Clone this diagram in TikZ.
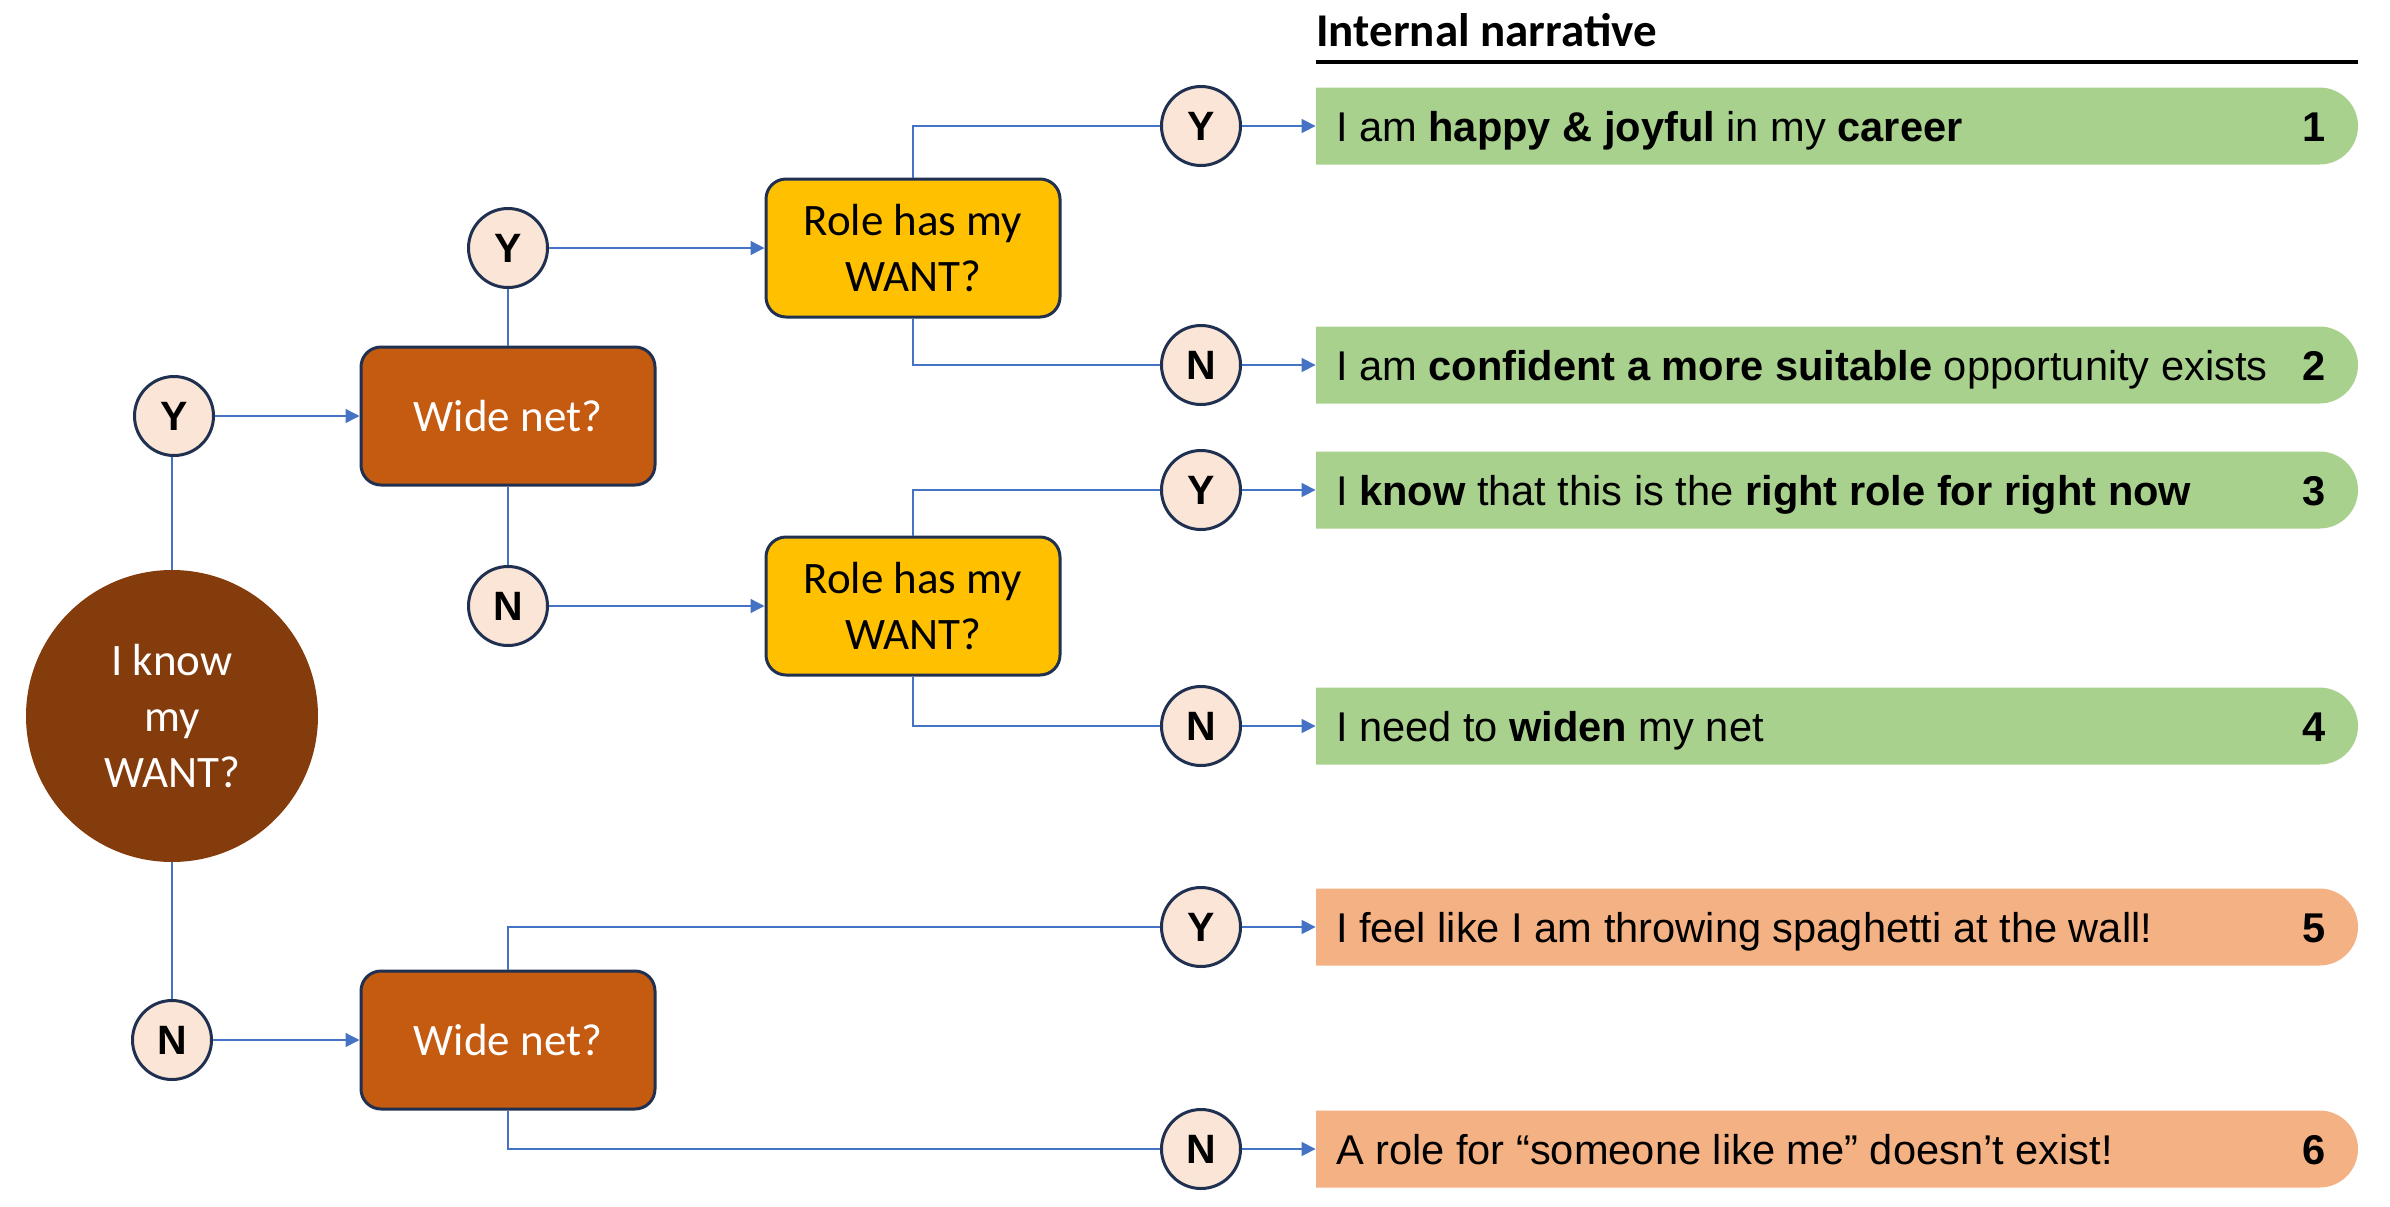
\documentclass[tikz,border=0pt]{standalone}
\usepackage{fontspec}
\usetikzlibrary{arrows.meta,shapes.misc}
\newfontfamily\calibrifont{Carlito}
\newfontfamily\arialfont{Liberation Sans}
\definecolor{lineblue}{HTML}{4472C4}
\definecolor{navy}{HTML}{1F3050}
\definecolor{peach}{HTML}{FBE5D6}
\definecolor{burnt}{HTML}{C55A11}
\definecolor{darkbrown}{HTML}{843C0C}
\definecolor{gold}{HTML}{FFC000}
\definecolor{leafgreen}{HTML}{A9D18E}
\definecolor{salmon}{HTML}{F4B183}
\tikzset{
  yn/.style={circle, draw=navy, line width=1.5pt, fill=peach, minimum size=39.5pt, inner sep=0pt,
    font=\arialfont\bfseries\fontsize{20.5}{22}\selectfont},
  decbox/.style={rectangle, rounded corners=10pt, draw=navy, line width=1.5pt,
    minimum width=147pt, minimum height=69pt, align=center, inner sep=2pt,
    font=\calibrifont\fontsize{22.5}{28}\selectfont},
  widebox/.style={decbox, fill=burnt, text=white},
  rolebox/.style={decbox, fill=gold, text=black},
  bigcirc/.style={circle, fill=darkbrown, minimum size=146pt, inner sep=0pt, text=white, align=center,
    font=\calibrifont\fontsize{22.5}{28}\selectfont},
  conn/.style={draw=lineblue, line width=0.7pt},
  arr/.style={conn, -{Triangle[length=7pt,width=7pt]}},
  outbox/.style={rounded rectangle, rounded rectangle left arc=none, minimum width=521pt,
    minimum height=38.5pt, inner sep=0pt},
  gbox/.style={outbox, fill=leafgreen},
  obox/.style={outbox, fill=salmon},
  ntext/.style={anchor=base west, inner sep=0pt, font=\arialfont\fontsize{20.8}{22}\selectfont},
  numtext/.style={anchor=base east, inner sep=0pt, font=\arialfont\bfseries\fontsize{20.8}{22}\selectfont},
}
\begin{document}
\begin{tikzpicture}[x=0.5pt,y=-0.5pt]
\useasboundingbox (0,0) rectangle (2390,1206);

% header
\node[anchor=base west, inner sep=0pt, font=\calibrifont\bfseries\fontsize{23.5}{26}\selectfont] (head) at (1316,46) {Internal narrative};
\coordinate (hl) at (1316,62);
\coordinate (hr) at (2358,62);
\draw[line width=2pt] (hl) -- (hr);

% decision nodes
\node[bigcirc] (big) at (172,716) {I know\\my\\WANT?};
\node[yn] (Y1) at (174,416) {Y};
\node[yn] (N1) at (172,1040) {N};
\node[widebox] (W1) at (508,416) {Wide net?};
\node[widebox] (W2) at (508,1040) {Wide net?};
\node[yn] (Y2) at (508,248) {Y};
\node[yn] (N2) at (508,606) {N};
\node[rolebox] (R1) at (913,248) {Role has my\\WANT?};
\node[rolebox] (R2) at (913,606) {Role has my\\WANT?};
\node[yn] (Y3) at (1201,126) {Y};
\node[yn] (N3) at (1201,365) {N};
\node[yn] (Y4) at (1201,490) {Y};
\node[yn] (N4) at (1201,726) {N};
\node[yn] (Y5) at (1201,927) {Y};
\node[yn] (N5) at (1201,1149) {N};

% outcome boxes
\node[gbox] (b1) at (1837,126) {};
\node[gbox] (b2) at (1837,365) {};
\node[gbox] (b3) at (1837,490) {};
\node[gbox] (b4) at (1837,726) {};
\node[obox] (b5) at (1837,927) {};
\node[obox] (b6) at (1837,1149) {};

\node[ntext] (t1) at ([xshift=10pt,yshift=-7.5pt]b1.west) {I am \textbf{happy \& joyful} in my \textbf{career}};
\node[ntext] (t2) at ([xshift=10pt,yshift=-7.5pt]b2.west) {I am \textbf{confident a more suitable} opportunity exists};
\node[ntext] (t3) at ([xshift=10pt,yshift=-7.5pt]b3.west) {I \textbf{know} that this is the \textbf{right role for right now}};
\node[ntext] (t4) at ([xshift=10pt,yshift=-7.5pt]b4.west) {I need to \textbf{widen} my net};
\node[ntext] (t5) at ([xshift=10pt,yshift=-7.5pt]b5.west) {I feel like I am throwing spaghetti at the wall!};
\node[ntext] (t6) at ([xshift=10pt,yshift=-7.5pt]b6.west) {A role for “someone like me” doesn’t exist!};

\node[numtext] (n1) at ([xshift=-16pt,yshift=-7.5pt]b1.east) {1};
\node[numtext] (n2) at ([xshift=-16pt,yshift=-7.5pt]b2.east) {2};
\node[numtext] (n3) at ([xshift=-16pt,yshift=-7.5pt]b3.east) {3};
\node[numtext] (n4) at ([xshift=-16pt,yshift=-7.5pt]b4.east) {4};
\node[numtext] (n5) at ([xshift=-16pt,yshift=-7.5pt]b5.east) {5};
\node[numtext] (n6) at ([xshift=-16pt,yshift=-7.5pt]b6.east) {6};

% connectors
\draw[conn] (big.north) -- (big.north |- Y1.south);
\draw[conn] (big.south) -- (N1.north);
\draw[arr] (Y1.east) -- (W1.west);
\draw[arr] (N1.east) -- (W2.west);
\draw[conn] (W1.north) -- (Y2.south);
\draw[conn] (W1.south) -- (N2.north);
\draw[arr] (Y2.east) -- (R1.west);
\draw[arr] (N2.east) -- (R2.west);
\draw[conn] (R1.north) |- (Y3.west);
\draw[conn] (R1.south) |- (N3.west);
\draw[conn] (R2.north) |- (Y4.west);
\draw[conn] (R2.south) |- (N4.west);
\draw[conn] (W2.north) |- (Y5.west);
\draw[conn] (W2.south) |- (N5.west);
\draw[arr] (Y3.east) -- (b1.west);
\draw[arr] (N3.east) -- (b2.west);
\draw[arr] (Y4.east) -- (b3.west);
\draw[arr] (N4.east) -- (b4.west);
\draw[arr] (Y5.east) -- (b5.west);
\draw[arr] (N5.east) -- (b6.west);
\end{tikzpicture}
\end{document}
